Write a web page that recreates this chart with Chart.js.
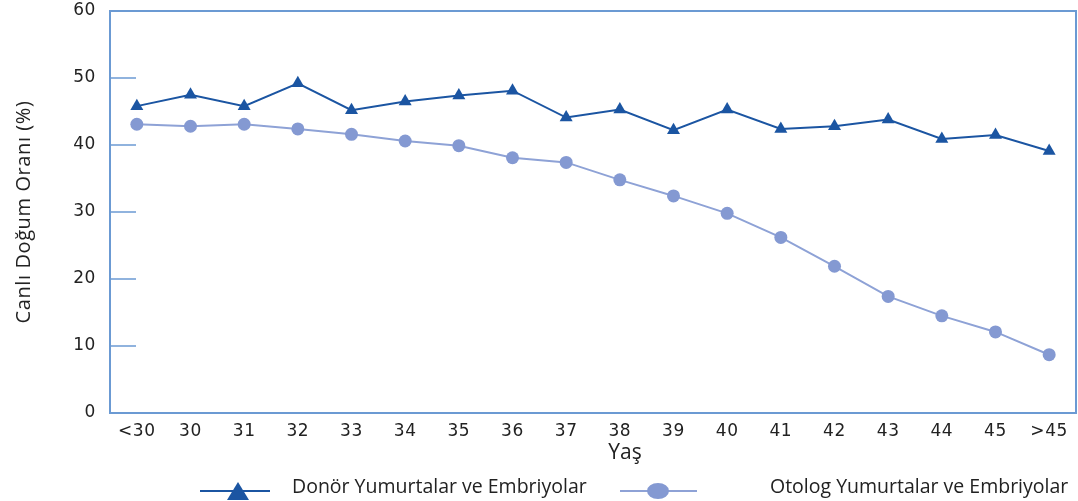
<!DOCTYPE html>
<html><head><meta charset="utf-8">
<script src="https://cdn.jsdelivr.net/npm/chart.js"></script>
<style>html,body{margin:0;padding:0;background:#fff}#c{display:block}</style>
</head><body>
<canvas id="c" width="1078" height="501"></canvas>
<script>
const categories = ['<30','30','31','32','33','34','35','36','37','38','39','40','41','42','43','44','45','>45'];
const donorValues = [45.8,47.5,45.8,49.2,45.2,46.5,47.4,48.1,44.1,45.3,42.2,45.3,42.4,42.8,43.8,40.9,41.5,39.1];
const autologValues = [43.1,42.8,43.1,42.4,41.6,40.6,39.9,38.1,37.4,34.8,32.4,29.8,26.2,21.9,17.4,14.5,12.1,8.7];
const seriesNames = ['Donör Yumurtalar ve Embriyolar','Otolog Yumurtalar ve Embriyolar'];
const yTicks = [0,10,20,30,40,50,60];
const yTitle = 'Canlı Doğum Oranı (%)';
const xTitle = 'Yaş';

const donorColor = '#1b55a2';
const autoLine = '#8ea2d6';
const autoPoint = '#8499d2';
const axisColor = '#6b9ad3';
const font = '"Open Sans", "DejaVu Sans", sans-serif';
const tickFont = '"DejaVu Sans", sans-serif';

const frame = {
  id: 'frame',
  beforeDraw(chart) {
    chart.ctx.letterSpacing = '0.6px';
  },
  afterDraw(chart) {
    const {ctx, chartArea: a, scales} = chart;
    ctx.save();
    ctx.letterSpacing = '0px';
    ctx.strokeStyle = axisColor;
    ctx.lineWidth = 2;
    ctx.strokeRect(a.left, a.top, a.right - a.left, a.bottom - a.top);
    ctx.lineWidth = 1.5;
    yTicks.forEach(v => {
      if (v === 0 || v === 60) return;
      const y = scales.y.getPixelForValue(v);
      ctx.beginPath(); ctx.moveTo(a.left, y); ctx.lineTo(a.left + 26, y); ctx.stroke();
    });
    // x title
    ctx.fillStyle = '#222';
    ctx.textBaseline = 'middle';
    ctx.textAlign = 'center';
    ctx.font = '21px ' + font;
    ctx.fillText(xTitle, 625, 453);
    // legend
    ctx.textAlign = 'left';
    ctx.font = '19.5px ' + font;
    const ly = 491;
    ctx.strokeStyle = donorColor; ctx.lineWidth = 2;
    ctx.beginPath(); ctx.moveTo(200, ly); ctx.lineTo(270, ly); ctx.stroke();
    ctx.fillStyle = donorColor;
    ctx.beginPath(); ctx.moveTo(238, ly - 9); ctx.lineTo(249, ly + 9); ctx.lineTo(227, ly + 9); ctx.closePath(); ctx.fill();
    ctx.strokeStyle = autoLine;
    ctx.beginPath(); ctx.moveTo(620, ly); ctx.lineTo(697, ly); ctx.stroke();
    ctx.fillStyle = autoPoint;
    ctx.beginPath(); ctx.ellipse(658, ly, 11, 8, 0, 0, Math.PI * 2); ctx.fill();
    ctx.fillStyle = '#222';
    ctx.fillText(seriesNames[0], 292, 487);
    ctx.fillText(seriesNames[1], 770, 487);
    ctx.restore();
  }
};

new Chart(document.getElementById('c'), {
  type: 'line',
  data: {
    labels: categories,
    datasets: [
      {label: seriesNames[0], data: donorValues, borderColor: donorColor, backgroundColor: donorColor,
       borderWidth: 2, pointStyle: 'triangle', pointRadius: 7.5, pointBorderWidth: 0, tension: 0},
      {label: seriesNames[1], data: autologValues, borderColor: autoLine, backgroundColor: autoPoint,
       borderWidth: 2, pointStyle: 'circle', pointRadius: 6.5, pointBorderWidth: 0, tension: 0}
    ]
  },
  options: {
    responsive: false, animation: false,
    layout: {autoPadding: false, padding: {top: 11, right: 2, left: 0, bottom: 0}},
    plugins: {legend: {display: false}, tooltip: {enabled: false}},
    scales: {
      x: {
        offset: true,
        grid: {display: false, drawTicks: false},
        border: {display: false},
        ticks: {color: '#222', font: {family: tickFont, size: 17}, padding: 8, maxRotation: 0, autoSkip: false},
        title: {display: false},
        afterFit(s) { s.height = 88; s.paddingLeft = 0; s.paddingRight = 0; }
      },
      y: {
        min: 0, max: 60,
        afterBuildTicks(s) { s.ticks = yTicks.map(v => ({value: v})); },
        grid: {display: false, drawTicks: false},
        border: {display: false},
        ticks: {color: '#222', font: {family: tickFont, size: 17}, padding: 14},
        title: {display: true, text: yTitle, color: '#222', font: {family: font, size: 20}, padding: {top: 12, bottom: 0}},
        afterFit(s) { s.width = 110; s.paddingTop = 0; s.paddingBottom = 0; }
      }
    }
  },
  plugins: [frame]
});
</script>
</body></html>
